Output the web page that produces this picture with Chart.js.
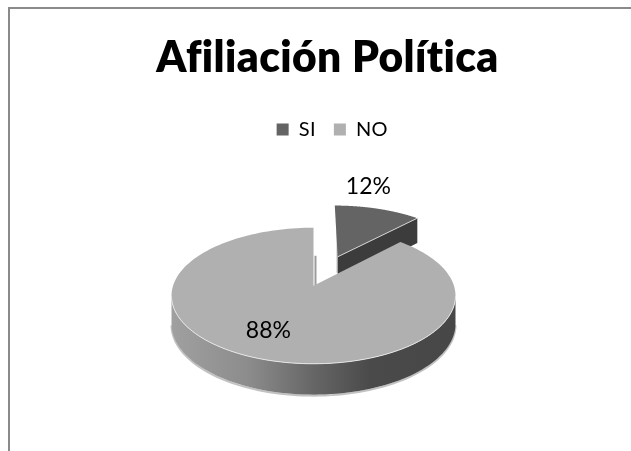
<!DOCTYPE html>
<html lang="es">
<head>
<meta charset="utf-8">
<title>Afiliación Política</title>
<script src="https://cdn.jsdelivr.net/npm/chart.js@4/dist/chart.umd.min.js"></script>
<style>
  html, body { margin: 0; padding: 0; background: #fff; overflow: hidden; }
  #wrap { position: relative; width: 631px; height: 451px; }
  #frame { position: absolute; left: 8px; top: 7px; right: 0; bottom: 0;
           border-top: 2px solid #8a8a8a; border-left: 2px solid #8a8a8a; }
  canvas { position: absolute; left: 0; top: 0; }
</style>
</head>
<body>
<div id="wrap">
  <div id="frame"></div>
  <canvas id="chart" width="631" height="451"></canvas>
</div>
<script>
const chartTitle = 'Afiliación Política';
const categories = ['SI', 'NO'];
const seriesValues = [12, 88];
const sliceColors = ['#646464', '#b0b0b0'];

// Tilted-disc projection: a unit circle onto an ellipse, with the circle's
// centre displaced towards the back so nearer parts look larger.
const TILT = 68 / 142;
const PERSPECTIVE = 0.147;
const PIE_SHIFT_X = -14;
const SAMPLES = 160;

function project(arc, ux, uy) {
  const d = 1 + PERSPECTIVE * uy;
  const r = arc.outerRadius;
  return {
    x: arc.x + PIE_SHIFT_X + r * ux * Math.sqrt(1 - PERSPECTIVE * PERSPECTIVE) / d,
    y: arc.y - r * TILT * (uy + PERSPECTIVE) / d
  };
}

// Points along a slice's rim, plus its apex; Chart.js angles run from -PI/2 at the top.
function sliceOutline(arc, explode) {
  const mid = (arc.startAngle + arc.endAngle) / 2;
  const ox = explode * Math.cos(mid);
  const oy = -explode * Math.sin(mid);
  const rim = [];
  for (let i = 0; i <= SAMPLES; i++) {
    const a = arc.startAngle + (arc.endAngle - arc.startAngle) * i / SAMPLES;
    rim.push(project(arc, ox + Math.cos(a), oy - Math.sin(a)));
  }
  return { apex: project(arc, ox, oy), rim };
}

function tracePolygon(ctx, pts) {
  ctx.beginPath();
  pts.forEach((p, i) => i ? ctx.lineTo(p.x, p.y) : ctx.moveTo(p.x, p.y));
  ctx.closePath();
}

function traceLine(ctx, pts) {
  ctx.beginPath();
  pts.forEach((p, i) => i ? ctx.lineTo(p.x, p.y) : ctx.moveTo(p.x, p.y));
}

// Wall height shrinks slightly towards the back of the disc.
const wallDepth = (arc, y) => arc.outerRadius * (0.198 + 0.00029 * (y - arc.y));

const drop = (arc, p) => ({ x: p.x, y: p.y + wallDepth(arc, p.y) });

const pie3d = {
  id: 'pie3d',
  beforeDraw(chart) {
    // Spacing also keeps the title's "fi" and "ti" as separate letters.
    chart.ctx.letterSpacing = '0.4px';
  },
  afterLayout(chart) {
    chart.legend.left += 4;
    chart.legend.right += 4;
  },
  beforeDatasetsDraw(chart) {
    const ctx = chart.ctx;
    const arcs = chart.getDatasetMeta(0).data;
    const ds = chart.data.datasets[0];
    const outlines = arcs.map((arc, i) =>
      sliceOutline(arc, (ds.offset[i] || 0) / arc.outerRadius));

    // Exploded slice: cut face along its clockwise edge, then its top.
    const si = outlines[0], siArc = arcs[0];
    const siEnd = si.rim[si.rim.length - 1];
    ctx.fillStyle = '#3c3c3c';
    tracePolygon(ctx, [si.apex, siEnd, drop(siArc, siEnd), drop(siArc, si.apex)]);
    ctx.fill();
    ctx.fillStyle = '#9a9a9a';
    ctx.fillRect(si.apex.x - 1, si.rim[0].y + 2, 1, si.apex.y - si.rim[0].y + 14);
    ctx.fillStyle = sliceColors[0];
    tracePolygon(ctx, [si.apex, ...si.rim]);
    ctx.fill();
    ctx.strokeStyle = '#d0d0d0';
    ctx.lineWidth = 1;
    traceLine(ctx, [si.apex, siEnd]);
    ctx.stroke();

    // Large slice: halo under the wall, the wall itself, then the top face.
    const no = outlines[1], noArc = arcs[1];
    const front = no.rim.filter(p => p.y >= noArc.y);
    const base = front.map(p => drop(noArc, p));
    const left = Math.min(...no.rim.map(p => p.x));
    const right = Math.max(...no.rim.map(p => p.x));

    ctx.save();
    ctx.strokeStyle = '#c2c2c2';
    ctx.lineWidth = 2;
    ctx.translate(0, 1);
    traceLine(ctx, base);
    ctx.stroke();
    ctx.restore();

    const wall = ctx.createLinearGradient(left, 0, right, 0);
    wall.addColorStop(0, '#a0a0a0');
    wall.addColorStop(0.27, '#8c8c8c');
    wall.addColorStop(0.5, '#666666');
    wall.addColorStop(0.7, '#4a4a4a');
    wall.addColorStop(1, '#474747');
    ctx.fillStyle = wall;
    tracePolygon(ctx, [...front, ...base.slice().reverse()]);
    ctx.fill();

    ctx.fillStyle = '#9c9c9c';
    ctx.fillRect(no.apex.x + 1, no.apex.y - 30, 2, 30);
    ctx.fillStyle = sliceColors[1];
    tracePolygon(ctx, [no.apex, ...no.rim]);
    ctx.fill();
    ctx.strokeStyle = '#e6e6e6';
    ctx.lineWidth = 1;
    traceLine(ctx, front);
    ctx.stroke();

    // The library's flat arcs are replaced by the faces drawn above.
    return false;
  },
  afterDraw(chart) {
    const ctx = chart.ctx;
    const arcs = chart.getDatasetMeta(0).data;
    const ds = chart.data.datasets[0];
    const placement = [
      { reach: 1.99, nudgeX: -26, nudgeY: -2 },
      { reach: 0.67, nudgeX: -7, nudgeY: -1 }
    ];
    ctx.save();
    ctx.letterSpacing = '0px';
    ctx.font = '23px Lato';
    ctx.fillStyle = '#000';
    ctx.textAlign = 'center';
    ctx.textBaseline = 'middle';
    arcs.forEach((arc, i) => {
      const mid = (arc.startAngle + arc.endAngle) / 2;
      const { reach, nudgeX, nudgeY } = placement[i];
      const p = project(arc, reach * Math.cos(mid), -reach * Math.sin(mid));
      ctx.fillText(ds.data[i] + '%', p.x + nudgeX, p.y + nudgeY);
    });
    ctx.restore();
  }
};

new Chart(document.getElementById('chart'), {
  type: 'pie',
  data: {
    labels: categories,
    datasets: [{
      data: seriesValues,
      backgroundColor: sliceColors,
      borderWidth: 0,
      offset: [71, 0]
    }]
  },
  options: {
    responsive: false,
    animation: false,
    radius: 142,
    layout: { padding: { left: 24, bottom: 9 } },
    plugins: {
      tooltip: { enabled: false },
      title: {
        display: true,
        text: chartTitle,
        color: '#000',
        font: { family: 'Lato', size: 42.5, weight: '800', lineHeight: 1.2 },
        padding: { top: 33, bottom: 17.5 }
      },
      legend: {
        position: 'top',
        labels: {
          color: '#000',
          font: { family: 'Lato', size: 20 },
          boxWidth: 12,
          boxHeight: 12,
          padding: 18
        }
      }
    }
  },
  plugins: [pie3d]
});
</script>
</body>
</html>
